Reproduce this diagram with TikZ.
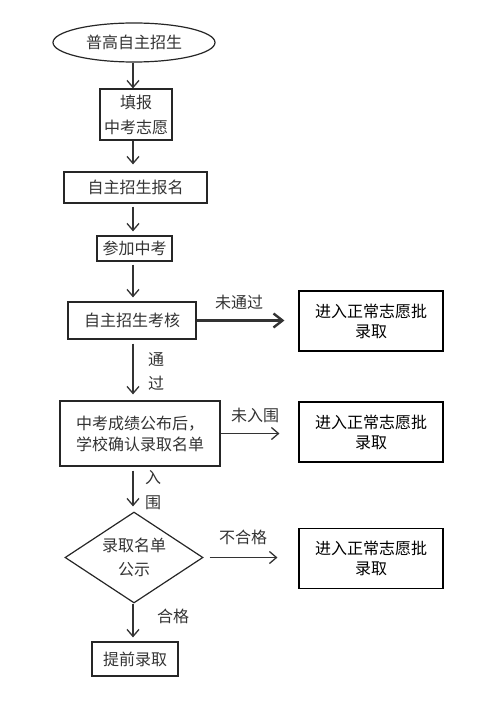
\documentclass[tikz,border=0pt]{standalone}
\usepackage{fontspec}
\setmainfont{Noto Sans CJK SC}
\usetikzlibrary{shapes.geometric,arrows.meta}

\tikzset{
  box/.style={draw=black!85, line width=1.2pt, text=black!80, font=\fontsize{16}{24}\selectfont, inner sep=0pt, align=center},
  sidebox/.style={draw=black, line width=1.1pt, minimum width=144pt, minimum height=60pt, inner sep=0pt, font=\fontsize{16}{20}\selectfont, align=center},
  arr/.style={draw=black!80, line width=1.3pt, -{Straight Barb[length=7pt,width=12pt]}},
  lbl/.style={text=black!80, inner sep=0pt, font=\fontsize{16}{24}\selectfont, align=center}
}

\begin{document}
\begin{tikzpicture}[x=1pt,y=-1pt]
		\useasboundingbox (0,0) rectangle (478,706);
		\coordinate (col) at (133,0);
		
		%main column
		\node[box, ellipse, minimum width=162pt, minimum height=39pt] (start) at (134,42.5) {普高自主招生};
		\node[box, minimum width=72pt, minimum height=51pt, font=\fontsize{16}{25}\selectfont] (fill) at (136,114.5) {填报\\中考志愿};
		\node[box, minimum width=143pt, minimum height=31pt] (signup) at (135.5,187.5) {自主招生报名};
		\node[box, minimum width=75pt, minimum height=25pt] (exam) at (134.5,248.5) {参加中考};
		\node[box, minimum width=128pt, minimum height=37pt] (check) at (132,320.5) {自主招生考核};
		\node[box, minimum width=160pt, minimum height=65pt, font=\fontsize{16}{21}\selectfont] (result) at (140,433.5) {中考成绩公布后，\\学校确认录取名单};
		\node[box, diamond, aspect=1.5, inner sep=2pt, minimum width=138pt, minimum height=91pt] (pub) at (134,557.5) {录取名单\\公示};
		\node[box, minimum width=86pt, minimum height=34pt] (admit) at (135,659) {提前录取};
		
		%side boxes
		\node[sidebox] (side1) at (371,321) {进入正常志愿批\\录取};
		\node[sidebox] (side2) at (371,432) {进入正常志愿批\\录取};
		\node[sidebox] (side3) at (371,558.5) {进入正常志愿批\\录取};
		
		%arrows down
		\draw[arr] (start.south -| col) -- (fill.north -| col);
		\draw[arr, shorten >=7pt] (fill.south -| col) -- (signup.north -| col);
		\draw[arr, shorten <=3pt, shorten >=4pt] (signup.south -| col) -- (exam.north -| col);
		\draw[arr, shorten <=3pt, shorten >=4pt] (exam.south -| col) -- (check.north -| col);
		\draw[arr, shorten <=4pt, shorten >=6pt] (check.south -| col) -- (result.north -| col);
		\draw[arr, shorten <=4pt, shorten >=5pt] (result.south -| col) -- (pub.north -| col);
		\draw[arr, shorten >=4pt] (pub.south -| col) -- (admit.north -| col);
		
		%arrows right
		\draw[arr, line width=2.4pt, -{Straight Barb[length=9pt,width=14pt]}, shorten >=14pt] (check.east) -- (check.east -| side1.west);
		\draw[arr, shorten >=19pt] (result.east) -- (result.east -| side2.west);
		\draw[arr, shorten <=6pt, shorten >=21pt] (pub.east) -- (pub.east -| side3.west);
		
		%labels
		\node[lbl] (nopass) at (239,302) {未通过};
		\node[lbl] (pass) at (156,371.5) {通\\过};
		\node[lbl] (noin) at (255,415) {未入围};
		\node[lbl, font=\fontsize{16}{25}\selectfont] (in) at (153,490.5) {入\\围};
		\node[lbl] (nook) at (243,537) {不合格};
		\node[lbl] (ok) at (173,616) {合格};
\end{tikzpicture}
\end{document}
